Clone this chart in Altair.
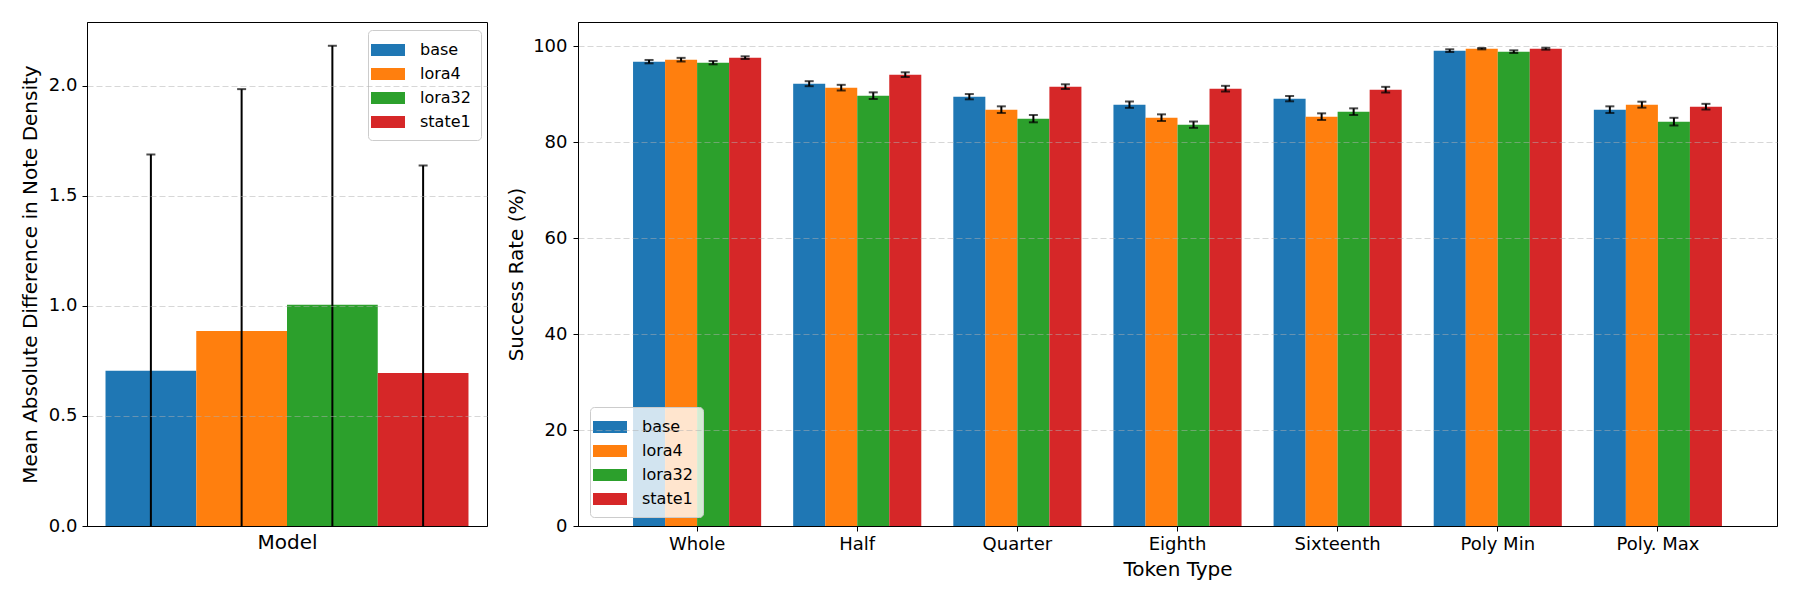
import altair as alt
import pandas as pd

models = ["base", "lora4", "lora32", "state1"]
colors = ["#1f77b4", "#ff7f0e", "#2ca02c", "#d62728"]

# Left panel: note density difference
nd_mean = [0.705, 0.886, 1.005, 0.695]
nd_err = [0.983, 1.099, 1.177, 0.943]

# Right panel: success rate by token type
token_types = ["Whole", "Half", "Quarter", "Eighth", "Sixteenth", "Poly Min", "Poly. Max"]
sr_base = [96.74, 92.15, 89.44, 87.78, 89.03, 99.03, 86.74]
sr_lora4 = [97.15, 91.32, 86.74, 85.07, 85.28, 99.44, 87.78]
sr_lora32 = [96.53, 89.65, 84.86, 83.61, 86.32, 98.82, 84.24]
sr_state1 = [97.57, 94.03, 91.53, 91.11, 90.90, 99.44, 87.36]
err_base = [0.35, 0.52, 0.55, 0.66, 0.55, 0.28, 0.69]
err_lora4 = [0.38, 0.59, 0.69, 0.69, 0.69, 0.14, 0.62]
err_lora32 = [0.35, 0.69, 0.76, 0.66, 0.69, 0.28, 0.80]
err_state1 = [0.28, 0.49, 0.49, 0.59, 0.59, 0.20, 0.59]

df_l = pd.DataFrame({"grp": ["Model"] * 4, "model": models, "mean": nd_mean, "err": nd_err})

rows = []
for m, vals, errs in zip(models, [sr_base, sr_lora4, sr_lora32, sr_state1],
                         [err_base, err_lora4, err_lora32, err_state1]):
    for t, v, e in zip(token_types, vals, errs):
        rows.append({"token": t, "model": m, "mean": v, "err": e})
df_r = pd.DataFrame(rows)

FONT = "DejaVu Sans"
sym = "M-1.7,-0.6L1.7,-0.6L1.7,0.6L-1.7,0.6Z"


def legend(x, y):
    return alt.Legend(
        title=None, orient="none", legendX=x, legendY=y,
        symbolType=sym, symbolSize=400, symbolStrokeWidth=0, symbolOpacity=1,
        labelFontSize=16, labelFont=FONT, labelColor="black", labelOffset=22,
        rowPadding=6, padding=10, fillColor="rgba(255,255,255,0.8)",
        strokeColor="#cccccc", cornerRadius=4,
    )


color_scale = alt.Scale(domain=models, range=colors)
xoff = alt.XOffset("model:N", sort=models, scale=alt.Scale(paddingInner=0, paddingOuter=0))

# ---------- left ----------
yl_scale = alt.Scale(domain=[0, 2.29], nice=False, zero=True)
yl_axis = alt.Axis(values=[0, 0.5, 1.0, 1.5, 2.0], format=".1f", grid=True,
                   title="Mean Absolute Difference in Note Density", titlePadding=8,
                   labelPadding=5, zindex=1)
xl = alt.X("grp:N", scale=alt.Scale(paddingInner=0, paddingOuter=0.051),
           axis=alt.Axis(title="Model", labels=False, ticks=False, titlePadding=6, zindex=2))

base_l = alt.Chart(df_l).transform_calculate(
    lo="datum.mean - datum.err", hi="datum.mean + datum.err")
bars_l = base_l.mark_bar().encode(
    x=xl, xOffset=xoff,
    y=alt.Y("mean:Q", scale=yl_scale, axis=yl_axis),
    color=alt.Color("model:N", sort=models, scale=color_scale, legend=legend(281, 8)),
)
rule_l = base_l.mark_rule(color="black", strokeWidth=2, clip=True).encode(
    x=xl, xOffset=xoff,
    y=alt.Y("lo:Q", scale=yl_scale, axis=yl_axis), y2="hi:Q",
)
cap_l = base_l.mark_tick(color="black", thickness=2, size=9, orient="horizontal", clip=True).encode(
    x=xl, xOffset=xoff,
    y=alt.Y("hi:Q", scale=yl_scale, axis=yl_axis),
)
left = alt.layer(bars_l, rule_l, cap_l).properties(width=400, height=504)

# ---------- right ----------
yr_scale = alt.Scale(domain=[0, 105], nice=False, zero=True)
yr_axis = alt.Axis(values=[0, 20, 40, 60, 80, 100], grid=True, title="Success Rate (%)",
                   titlePadding=6, labelPadding=6, zindex=1)
xr = alt.X("token:N", sort=token_types,
           scale=alt.Scale(paddingInner=0.2, paddingOuter=0.34375),
           axis=alt.Axis(title="Token Type", labelAngle=0, labelPadding=4, titlePadding=6,
                         zindex=2))

base_r = alt.Chart(df_r).transform_calculate(
    lo="datum.mean - datum.err", hi="datum.mean + datum.err")
bars_r = base_r.mark_bar().encode(
    x=xr, xOffset=xoff,
    y=alt.Y("mean:Q", scale=yr_scale, axis=yr_axis),
    color=alt.Color("model:N", sort=models, scale=color_scale, legend=legend(12, 385)),
)
rule_r = base_r.mark_rule(color="black", strokeWidth=2).encode(
    x=xr, xOffset=xoff,
    y=alt.Y("lo:Q", scale=yr_scale, axis=yr_axis), y2="hi:Q",
)
caplo_r = base_r.mark_tick(color="black", thickness=2, size=9, orient="horizontal").encode(
    x=xr, xOffset=xoff,
    y=alt.Y("lo:Q", scale=yr_scale, axis=yr_axis),
)
caphi_r = base_r.mark_tick(color="black", thickness=2, size=9, orient="horizontal").encode(
    x=xr, xOffset=xoff,
    y=alt.Y("hi:Q", scale=yr_scale, axis=yr_axis),
)
right = alt.layer(bars_r, rule_r, caplo_r, caphi_r).properties(width=1199, height=504)

chart = alt.hconcat(left, right, spacing=18).resolve_scale(
    x="independent", y="independent", xOffset="independent"
).resolve_legend(color="independent").properties(
    padding={"left": 11, "top": 13, "right": 5, "bottom": 5}
).configure_view(
    stroke="black", strokeWidth=1
).configure_axis(
    domainColor="black", tickColor="black", labelColor="black", titleColor="black",
    labelFont=FONT, titleFont=FONT, labelFontSize=18, titleFontSize=20,
    titleFontWeight="normal", tickSize=5, tickWidth=1, domainWidth=1,
    gridColor="#b0b0b0", gridOpacity=0.5, gridDash=[6, 3], gridWidth=1,
).configure_axisX(grid=False)

chart.save("out.html", embed_options={"renderer": "svg", "actions": False})
